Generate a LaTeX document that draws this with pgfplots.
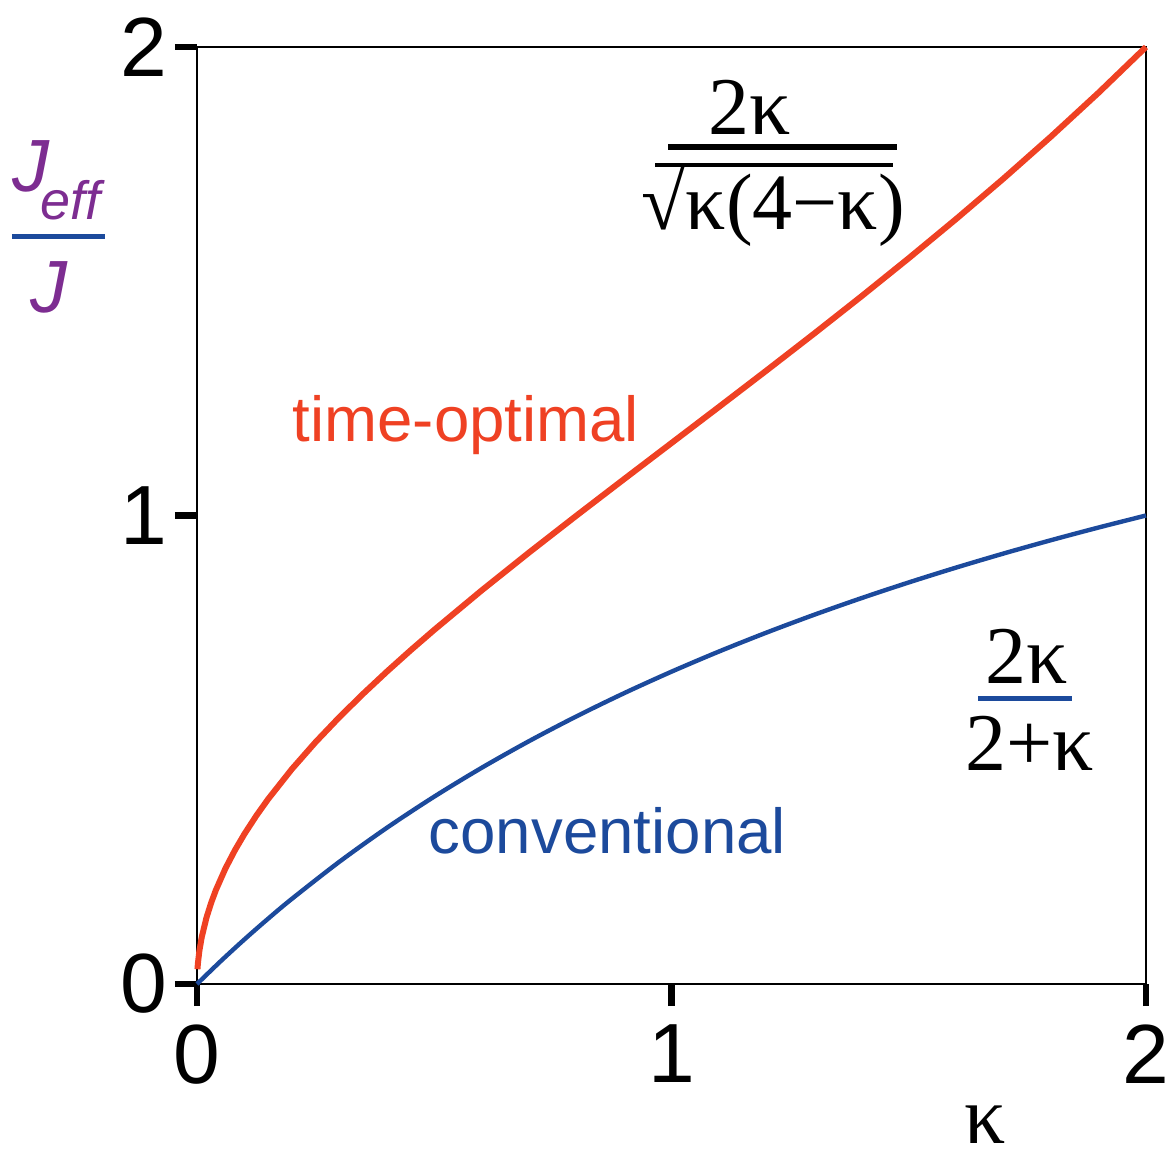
\documentclass[border=0pt]{standalone}
\usepackage{fontspec}
\setmainfont{Liberation Sans}
\newfontfamily\serif{Liberation Serif}
\usepackage{pgfplots}
\pgfplotsset{compat=1.18}

\definecolor{optred}{RGB}{239,65,35}
\definecolor{convblue}{RGB}{28,74,156}
\definecolor{labpurple}{RGB}{125,45,145}

\begin{document}
\begin{tikzpicture}
\begin{axis}[
    at={(0,0)}, anchor=south west,
    scale only axis,
    width=237.25pt, height=234.25pt,
    xmin=0, xmax=2, ymin=0, ymax=2,
    xtick={0,1,2}, ytick={0,1,2},
    xtick pos=bottom, ytick pos=left,
    tick align=outside,
    major tick length=5.5pt,
    tick style={black, line width=1.7pt},
    axis line style={line width=0.5pt},
    ticklabel style={font=\fontsize{21}{21}\selectfont, inner sep=0pt},
    /pgf/number format/assume math mode=true,
    xticklabel style={yshift=-4.5pt},
    yticklabel style={xshift=-1.75pt},
    clip=false,
]
% time-optimal: 2k / sqrt(k(4-k))
\addplot[optred, line width=1.5pt] coordinates {
    (0.001,0.03163) (0.002,0.04473) (0.005,0.07076) (0.01,0.10013)
    (0.02,0.14178) (0.03,0.17386) (0.04,0.20101) (0.06,0.24681)
    (0.08,0.28571) (0.1,0.32026) (0.125,0.35921) (0.15,0.39477)
    (0.2,0.45883) (0.25,0.51640) (0.3,0.56949) (0.35,0.61932)
    (0.4,0.66667) (0.45,0.71207) (0.5,0.75593) (0.6,0.84017)
    (0.7,0.92113) (0.8,1.0) (0.9,1.07763) (1.0,1.15470)
    (1.1,1.23176) (1.2,1.30931) (1.3,1.38778) (1.4,1.46760)
    (1.5,1.54919) (1.6,1.63299) (1.7,1.71945) (1.8,1.80907)
    (1.9,1.90238) (2.0,2.0)
};
% conventional: 2k / (2+k)
\addplot[convblue, line width=1.1pt, smooth] coordinates {
    (0,0) (0.05,0.04878) (0.1,0.09524) (0.15,0.13953) (0.2,0.18182)
    (0.3,0.26087) (0.4,0.33333) (0.5,0.4) (0.6,0.46154) (0.7,0.51852)
    (0.8,0.57143) (0.9,0.62069) (1.0,0.66667) (1.1,0.70968) (1.2,0.75)
    (1.3,0.78788) (1.4,0.82353) (1.5,0.85714) (1.6,0.88889) (1.7,0.91892)
    (1.8,0.94737) (1.9,0.97436) (2.0,1.0)
};
\end{axis}

% annotations, placed in pixel units of the reference
\begin{scope}[x=0.25pt, y=-0.25pt, shift={(-197,-984)},
    every node/.style={inner sep=0pt}]
  \node[anchor=base west, text=optred, font=\fontsize{15.9}{16}\selectfont]
      at (292,442) {time-optimal};
  \node[anchor=base west, text=convblue, font=\fontsize{15.9}{16}\selectfont]
      at (428,853) {conventional};

  % red formula
  \node[anchor=base, font=\serif\fontsize{20.5}{20.5}\selectfont] at (750,135) {2κ};
  \draw[line width=1.5pt] (668,147) -- (897,147);
  \node[anchor=base west, font=\serif\fontsize{20}{20}\selectfont] at (641,230) {√κ(4−κ)};
  \draw[line width=1pt] (655,165) -- (893,165);

  % blue formula
  \node[anchor=base, font=\serif\fontsize{20.5}{20.5}\selectfont] at (1027,683) {2κ};
  \draw[convblue, line width=1.25pt] (978,698) -- (1072,698);
  \node[anchor=base, font=\serif\fontsize{20.5}{20.5}\selectfont] at (1030,770) {2+κ};

  % axis labels
  \node[anchor=base, font=\serif\fontsize{20.5}{20.5}\selectfont] at (985,1143) {κ};
  \node[anchor=base west, text=labpurple, font=\itshape\fontsize{18.5}{18.5}\selectfont]
      at (12,192) {J};
  \node[anchor=base west, text=labpurple, font=\itshape\fontsize{13.5}{13.5}\selectfont]
      at (40,220) {eff};
  \draw[convblue, line width=1.25pt] (12,237) -- (105,237);
  \node[anchor=base west, text=labpurple, font=\itshape\fontsize{18.5}{18.5}\selectfont]
      at (30,313) {J};

  \pgfresetboundingbox
  \path[use as bounding box] (0,0) rectangle (1174,1156);
\end{scope}
\end{tikzpicture}
\end{document}
